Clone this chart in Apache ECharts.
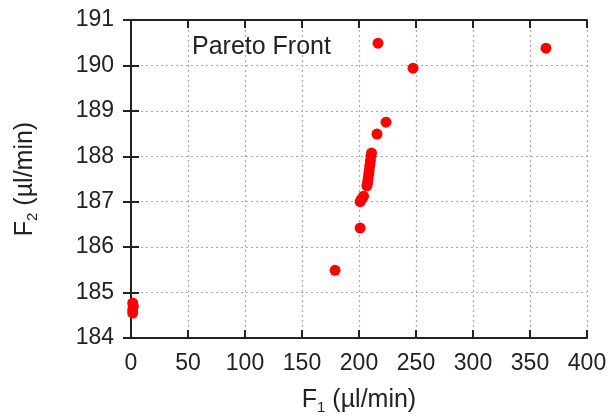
<!DOCTYPE html>
<html><head><meta charset="utf-8">
<script src="https://cdn.jsdelivr.net/npm/echarts@6/dist/echarts.min.js"></script>
<style>html,body{margin:0;padding:0;background:#fff}#c{width:613px;height:417px}</style>
</head><body><div id="c"></div>
<script>
const f1 = [216.7, 247.4, 364, 223.7, 215.8, 211, 210.5, 210, 209.5, 209, 208.5, 208, 207.5, 207, 204, 202, 201, 201, 179, 1.5, 2, 1.5, 1.5];
const f2 = [190.49, 189.94, 190.38, 188.75, 188.49, 188.07, 188.0, 187.9, 187.8, 187.7, 187.6, 187.5, 187.42, 187.35, 187.12, 187.05, 187.0, 186.42, 185.49, 184.77, 184.7, 184.62, 184.55];
const xTicks = [0, 50, 100, 150, 200, 250, 300, 350, 400];
const yTicks = [184, 185, 186, 187, 188, 189, 190, 191];
const seriesName = 'Pareto Front';

const pts = f1.map((v, i) => [v, f2[i]]);
const font = 'Liberation Sans, Arial, sans-serif';
const axisLine = {show: true, lineStyle: {color: '#222', width: 2}};
const tick = {show: true, inside: true, length: 8, lineStyle: {color: '#222', width: 2}};
const grid = {show: true, lineStyle: {type: [2, 3], color: '#aaa', width: 1.2}};
const chart = echarts.init(document.getElementById('c'));
chart.setOption({
  animation: false,
  backgroundColor: '#fff',
  grid: {left: 131, right: 26, top: 20, bottom: 79, containLabel: false, outerBoundsMode: 'none'},
  title: {text: seriesName, left: 187, top: 30, textStyle: {fontFamily: font, fontSize: 25, fontWeight: 'normal', color: '#222'}},
  xAxis: [{
    type: 'value', min: xTicks[0], max: xTicks[xTicks.length - 1], interval: 50,
    axisLine, axisTick: tick, splitLine: grid,
    axisLabel: {fontFamily: font, fontSize: 23, color: '#222', margin: 14},
    name: 'F{s|1} (µl/min)', nameLocation: 'middle', nameGap: 48,
    nameTextStyle: {fontFamily: font, fontSize: 25, color: '#222', rich: {s: {fontFamily: font, fontSize: 15, color: '#222', verticalAlign: 'bottom', padding: [14, 0, 0, 0]}}}
  }, {
    type: 'value', position: 'top', min: xTicks[0], max: xTicks[xTicks.length - 1], interval: 50,
    axisLine, axisTick: tick, splitLine: {show: false}, axisLabel: {show: false}
  }],
  yAxis: [{
    type: 'value', min: yTicks[0], max: yTicks[yTicks.length - 1], interval: 1,
    axisLine, axisTick: tick, splitLine: grid,
    axisLabel: {fontFamily: font, fontSize: 23, color: '#222', margin: 17},
    name: 'F{s|2} (µl/min)', nameLocation: 'middle', nameGap: 91,
    nameTextStyle: {fontFamily: font, fontSize: 25, color: '#222', rich: {s: {fontFamily: font, fontSize: 15, color: '#222', verticalAlign: 'bottom', padding: [14, 0, 0, 0]}}}
  }, {
    type: 'value', position: 'right', min: yTicks[0], max: yTicks[yTicks.length - 1], interval: 1,
    axisLine, axisTick: tick, splitLine: {show: false}, axisLabel: {show: false}
  }],
  series: [{
    name: seriesName, type: 'scatter', data: pts, symbolSize: 11,
    itemStyle: {color: '#ff0000', opacity: 1}
  }]
});
</script></body></html>
